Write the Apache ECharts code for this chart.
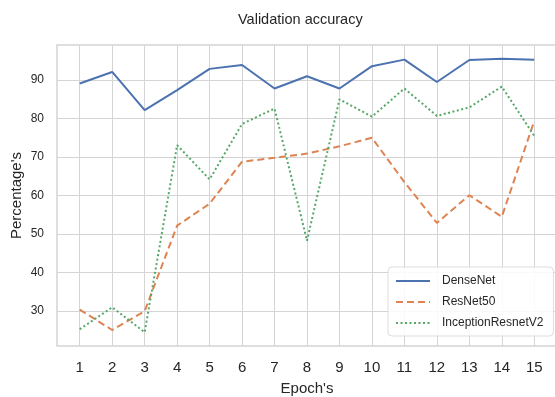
<!DOCTYPE html>
<html>
<head>
<meta charset="utf-8">
<script src="https://cdn.jsdelivr.net/npm/echarts@6/dist/echarts.min.js"></script>
<style>
  html, body { margin: 0; padding: 0; background: #fff; }
  #chart { width: 555px; height: 397px; }
</style>
</head>
<body>
<div id="chart"></div>
<script>
// epochs on x axis
var epochs = [1, 2, 3, 4, 5, 6, 7, 8, 9, 10, 11, 12, 13, 14, 15];
// validation accuracy per model
var denseNet = [89.1, 92.1, 82.2, 87.4, 92.9, 93.9, 87.8, 91.0, 87.8, 93.6, 95.3, 89.5, 95.2, 95.5, 95.3];
var resNet50 = [30.4, 25.1, 30.0, 52.2, 57.9, 68.8, 69.8, 70.9, 72.8, 75.0, 63.5, 52.9, 60.1, 54.5, 79.4];
var inception = [25.3, 31.0, 24.5, 73.1, 64.2, 78.6, 82.6, 48.3, 85.0, 80.5, 87.8, 80.7, 82.9, 88.3, 75.5];
var yTicks = [30, 40, 50, 60, 70, 80, 90];
var seriesNames = ["DenseNet", "ResNet50", "InceptionResnetV2"];

var font = "Liberation Sans, Arial, sans-serif";
var gridColor = "#d4d4d4";

function pairs(arr) {
  return epochs.map(function (e, i) { return [e, arr[i]]; });
}

var chart = echarts.init(document.getElementById("chart"), null, { renderer: "canvas" });

var option = {
  backgroundColor: "#fff",
  animation: false,
  textStyle: { fontFamily: font },
  title: {
    text: "Validation accuracy",
    left: 233,
    top: 7,
    textStyle: { fontFamily: font, fontSize: 14.5, fontWeight: "normal", color: "#262626" }
  },
  grid: {
    left: 57,
    top: 45,
    width: 500,
    height: 301,
    show: true,
    borderColor: gridColor,
    borderWidth: 1.5,
    outerBoundsMode: "none"
  },
  legend: {
    orient: "vertical",
    left: 388,
    top: 267,
    padding: [8, 10, 7, 7],
    itemWidth: 34,
    itemHeight: 14,
    itemGap: 9,
    borderColor: "#dddddd",
    borderWidth: 1,
    borderRadius: 4,
    backgroundColor: "rgba(255,255,255,0.85)",
    selectedMode: false,
    itemStyle: { opacity: 0, borderWidth: 0 },
    textStyle: { fontFamily: font, fontSize: 12, color: "#262626", padding: [0, 0, 0, 7] },
    data: seriesNames
  },
  xAxis: {
    type: "value",
    min: 0.3,
    max: 15.7,
    name: "Epoch's",
    nameLocation: "middle",
    nameGap: 35,
    nameTextStyle: { fontFamily: font, fontSize: 15, color: "#262626" },
    axisLine: { show: false },
    axisTick: { show: false, customValues: epochs },
    axisLabel: { customValues: epochs, fontFamily: font, fontSize: 15, color: "#262626", margin: 14 },
    splitLine: { show: true, lineStyle: { color: gridColor, width: 1 } }
  },
  yAxis: {
    type: "value",
    min: 20.95,
    max: 99.1,
    name: "Percentage's",
    nameLocation: "middle",
    nameGap: 33,
    nameMoveOverlap: false,
    nameTextStyle: { fontFamily: font, fontSize: 15, color: "#262626" },
    axisLine: { show: false },
    axisTick: { show: false, customValues: yTicks },
    axisLabel: { customValues: yTicks, fontFamily: font, fontSize: 12, color: "#262626", margin: 13 },
    splitLine: { show: true, lineStyle: { color: gridColor, width: 1 } }
  },
  series: [
    {
      name: seriesNames[0],
      type: "line",
      symbol: "none",
      data: pairs(denseNet),
      color: "#4c72b0",
      lineStyle: { color: "#4c72b0", width: 2 }
    },
    {
      name: seriesNames[1],
      type: "line",
      symbol: "none",
      data: pairs(resNet50),
      color: "#dd8452",
      lineStyle: { color: "#dd8452", width: 2, type: [7, 4] }
    },
    {
      name: seriesNames[2],
      type: "line",
      symbol: "none",
      data: pairs(inception),
      color: "#55a868",
      lineStyle: { color: "#55a868", width: 2, type: [2, 2.5] }
    }
  ]
};

chart.setOption(option);
</script>
</body>
</html>
